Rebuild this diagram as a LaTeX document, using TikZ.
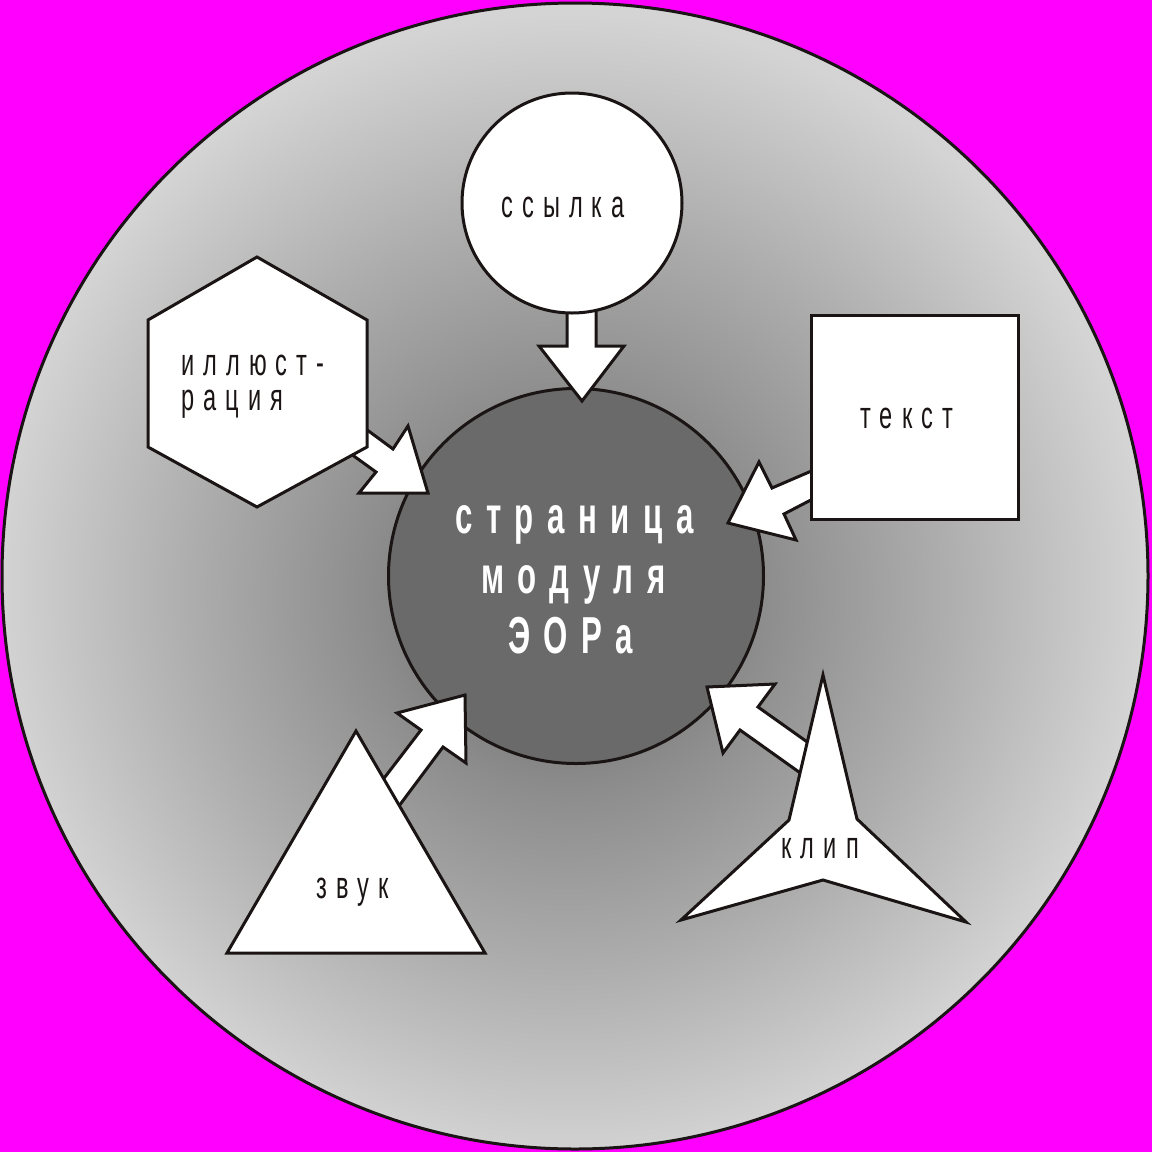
\documentclass[tikz,border=0pt]{standalone}
\usepackage{fontspec}
\newfontfamily\lblfont{Liberation Sans}[FakeStretch=0.62,LetterSpace=24]
\newfontfamily\ctrfont{Liberation Sans Bold}[FakeStretch=0.6,LetterSpace=26]
\definecolor{magbg}{RGB}{255,0,255}
\definecolor{ink}{RGB}{26,20,20}
\definecolor{pagefill}{RGB}{106,106,106}
\pgfdeclareradialshading{discshade}{\pgfpoint{-0.5bp}{-1bp}}{color(0bp)=(black!62); color(8.5bp)=(black!45); color(16.5bp)=(black!32); color(25bp)=(black!17); color(50bp)=(black!17)}
\begin{document}
\begin{tikzpicture}[x=1pt,y=-1pt,
  shapeline/.style={draw=ink, line width=3pt, line join=miter},
  whiteshape/.style={shapeline, fill=white},
  lbl/.style={anchor=base west, inner sep=0pt, font=\lblfont\fontsize{38}{38}\selectfont, text=ink},
  ctr/.style={anchor=base west, inner sep=0pt, font=\ctrfont\fontsize{52}{52}\selectfont, text=white}]
\fill[magbg] (0,0) rectangle (1152,1152);
\useasboundingbox (0,0) rectangle (1152,1152);
% outer disc
\node[circle, minimum size=1146pt, inner sep=0pt, shade, shading=discshade, draw=ink, line width=3pt] (disc) at (575,576) {};
% central page
\node[circle, minimum size=375pt, inner sep=0pt, fill=pagefill, draw=ink, line width=3pt] (page) at (576,576) {};
% block arrows
\draw[whiteshape] (567,300) -- (567,346) -- (539,346) -- (582,401) -- (624,346) -- (596,346) -- (596,300) -- cycle;
\draw[whiteshape] (355,421) -- (393,449) -- (408,426) -- (428,493) -- (359,493) -- (376,472) -- (340,446) -- cycle;
\draw[whiteshape] (830,463) -- (772,488) -- (759,462) -- (728,523) -- (796,540) -- (784,514) -- (830,490) -- cycle;
\draw[whiteshape] (827,756) -- (758,707) -- (775,684) -- (707,687) -- (723,753) -- (740,730) -- (820,787) -- cycle;
\draw[whiteshape] (375,790) -- (421,730) -- (397,713) -- (465,695) -- (466,763) -- (443,747) -- (390,818) -- cycle;
% source shapes
\node[circle, minimum size=220pt, inner sep=0pt, whiteshape] (link) at (572,203) {};
\draw[whiteshape] (257,257) -- (367,320) -- (367,447) -- (257,507) -- (148,447) -- (148,320) -- cycle;
\draw[whiteshape] (811,315) rectangle (1018,519);
\draw[whiteshape] (823,675) -- (857,819) -- (966,922) -- (823,880) -- (681,920) -- (789,820) -- cycle;
\draw[whiteshape] (356,731) -- (485,953) -- (227,953) -- cycle;
% labels
\node[lbl] (tlink) at (501,217) {ссылка};
\node[lbl] (till1) at (181,375) {иллюст-};
\node[lbl] (till2) at (181,410) {рация};
\node[lbl] (ttext) at (860,428) {текст};
\node[lbl] (tsound) at (316,898) {звук};
\node[lbl] (tclip) at (781,858) {клип};
\node[ctr] (c1) at (455,533) {страница};
\node[ctr] (c2) at (481,593) {модуля};
\node[ctr] (c3) at (508,653) {ЭОРа};
\end{tikzpicture}
\end{document}
